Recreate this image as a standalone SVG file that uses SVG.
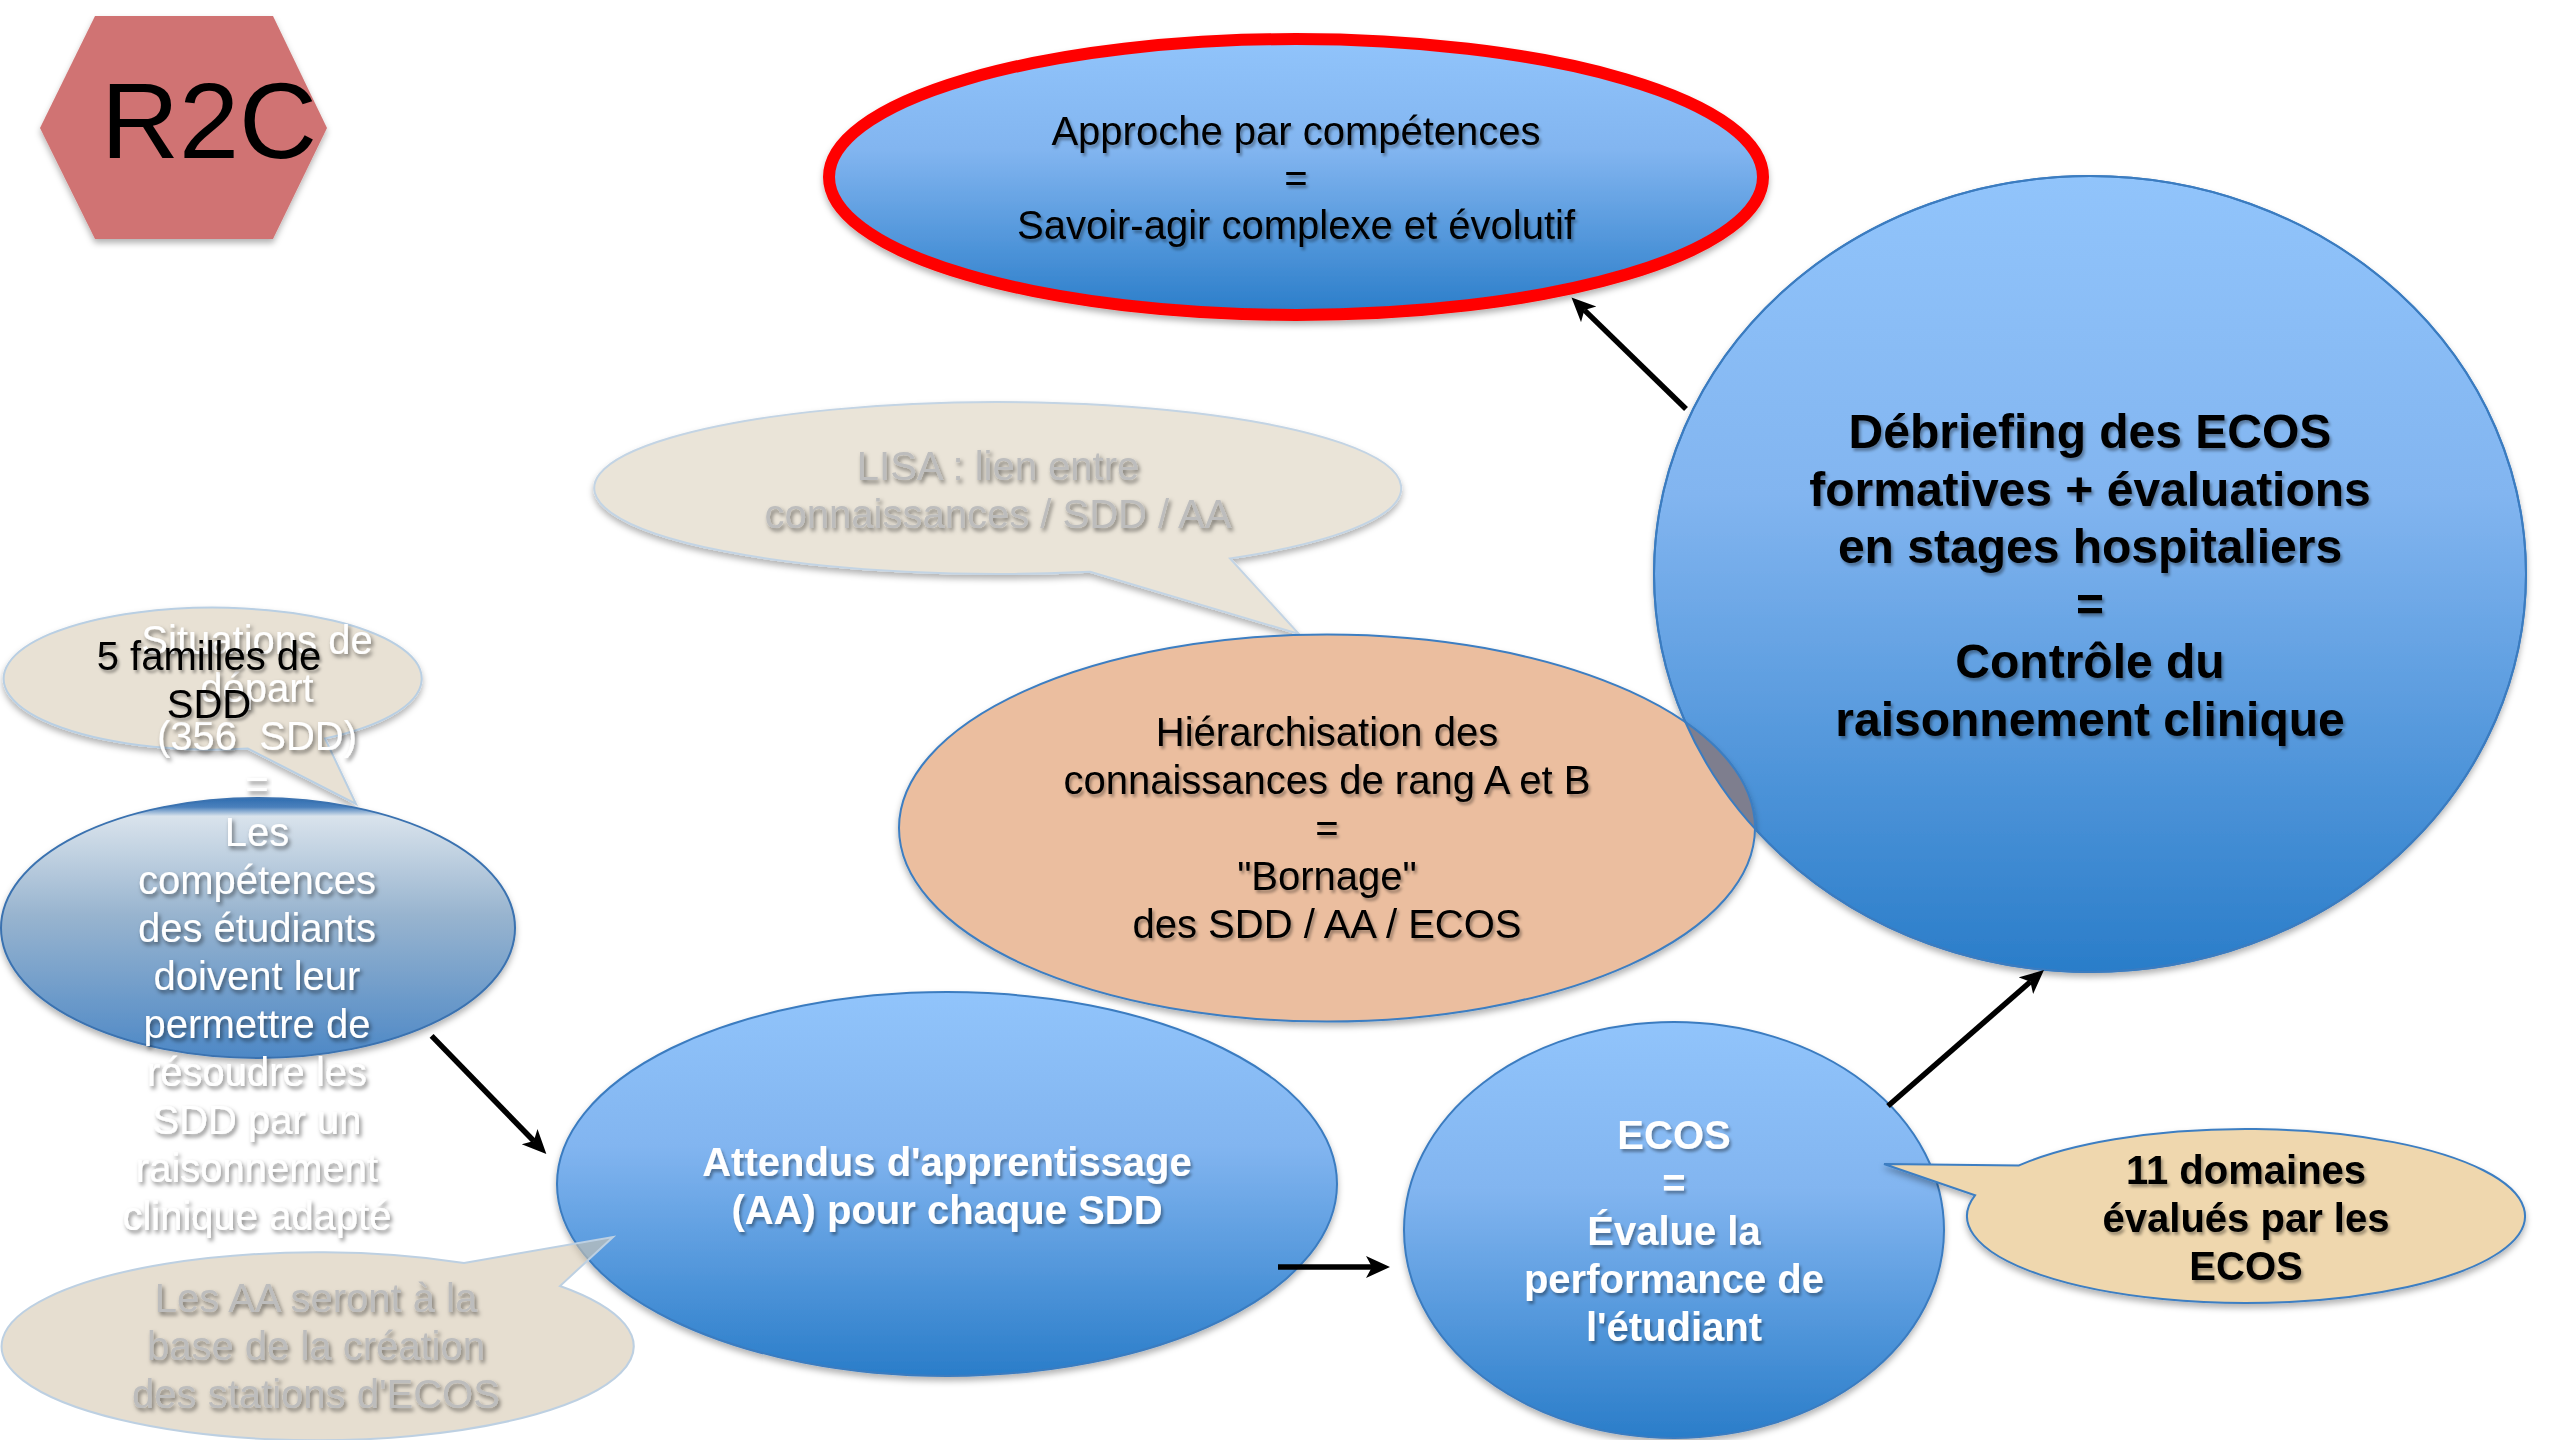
<svg xmlns="http://www.w3.org/2000/svg" width="2560" height="1440" viewBox="0 0 2560 1440">
<defs>
<linearGradient id="gBlue" x1="0" y1="0" x2="0" y2="1">
<stop offset="0" stop-color="#91C4FB"/>
<stop offset="0.4" stop-color="#82B5F0"/>
<stop offset="1" stop-color="#2A7DC9"/>
</linearGradient>
<linearGradient id="gSteel" x1="0" y1="0" x2="0" y2="1">
<stop offset="0" stop-color="#2F6DB0"/>
<stop offset="0.035" stop-color="#4A80BC"/>
<stop offset="0.07" stop-color="#D9E3EC"/>
<stop offset="0.45" stop-color="#98B4CF"/>
<stop offset="1" stop-color="#4D88C6"/>
</linearGradient>
<filter id="sh" x="-10%" y="-10%" width="120%" height="125%">
<feDropShadow dx="0" dy="4" stdDeviation="3" flood-color="#000" flood-opacity="0.3"/>
</filter>
<filter id="ts" x="-10%" y="-30%" width="120%" height="160%">
<feDropShadow dx="2" dy="3" stdDeviation="1.5" flood-color="#000" flood-opacity="0.35"/>
</filter>
<filter id="tg" x="-10%" y="-30%" width="120%" height="160%">
<feDropShadow dx="2" dy="3" stdDeviation="2" flood-color="#000" flood-opacity="0.5"/>
</filter>
<clipPath id="clipDeb"><ellipse cx="2090" cy="574" rx="436" ry="398"/></clipPath>
<marker id="arr" markerUnits="userSpaceOnUse" markerWidth="26" markerHeight="24" refX="6" refY="11" orient="auto" viewBox="0 0 26 24">
<path d="M0,0 L24,11 L0,22 L6,11 Z" fill="#000"/>
</marker>
<style>
text{font-family:"Liberation Sans",Arial,sans-serif;font-size:40px;text-anchor:middle}
.b{font-weight:bold}
.blk{fill:#000;filter:url(#ts)}
.wht{fill:#FFFFFF;filter:url(#ts)}
.ghost{fill:#FFFFFF;filter:url(#tg)}
.gry{fill:#BDBDBD;filter:url(#tg)}
.blue{fill:url(#gBlue);stroke:#3B7CC0;stroke-width:2}
.conn{stroke:#000;stroke-width:5.5;fill:none;marker-end:url(#arr)}
</style>
</defs>
<rect width="2560" height="1440" fill="#FFFFFF"/>

<g id="n-r2c">
<polygon points="95,16 273,16 327,128 273,239 95,239 40,128" fill="#D07373" filter="url(#sh)"/>
<text x="209" y="158" style="font-size:108px" fill="#000">R2C</text>
</g>

<g id="n-approche">
<ellipse cx="1296" cy="177" rx="467" ry="138" fill="url(#gBlue)" stroke="#FF0000" stroke-width="12" filter="url(#sh)"/>
<text class="blk" x="1296" y="145">Approche par compétences</text>
<text class="blk" x="1296" y="192">=</text>
<text class="blk" x="1296" y="239">Savoir-agir complexe et évolutif</text>
</g>

<g id="n-lisa">
<path d="M1090,571.8 L1299,634 L1230,558.4 A403.5 86 0 1 0 1090,571.8 Z" fill="#EAE4D8" stroke="#C3D4E4" stroke-width="2" filter="url(#sh)"/>
<text class="gry" x="998" y="480">LISA : lien entre</text>
<text class="gry" x="998" y="528">connaissances / SDD / AA</text>
</g>

<g id="n-debriefing">
<ellipse class="blue" cx="2090" cy="574" rx="436" ry="398" filter="url(#sh)"/>
<text class="blk b" x="2090" y="448" style="font-size:48px">Débriefing des ECOS</text>
<text class="blk b" x="2090" y="505.6" style="font-size:48px">formatives + évaluations</text>
<text class="blk b" x="2090" y="563.2" style="font-size:48px">en stages hospitaliers</text>
<text class="blk b" x="2090" y="620.8" style="font-size:48px">=</text>
<text class="blk b" x="2090" y="678.4" style="font-size:48px">Contrôle du</text>
<text class="blk b" x="2090" y="736" style="font-size:48px">raisonnement clinique</text>
</g>

<g id="n-hierarchisation">
<ellipse cx="1327" cy="828" rx="428" ry="193.5" fill="#EBBE9F" stroke="#3C7EC2" stroke-width="2" filter="url(#sh)"/>
<ellipse cx="1327" cy="828" rx="428" ry="193.5" fill="#7E7E8E" stroke="#3C7EC2" stroke-width="2" clip-path="url(#clipDeb)"/>
<ellipse cx="2090" cy="574" rx="436" ry="398" fill="none" stroke="#3B7CC0" stroke-width="2"/>
<text class="blk" x="1327" y="745.5">Hiérarchisation des</text>
<text class="blk" x="1327" y="793.5">connaissances de rang A et B</text>
<text class="blk" x="1327" y="841.5">=</text>
<text class="blk" x="1327" y="889.5">"Bornage"</text>
<text class="blk" x="1327" y="937.5">des SDD / AA / ECOS</text>
</g>

<g id="n-familles">
<path d="M248,748.6 L356,804 L325,738.5 A209 71 0 1 0 248,748.6 Z" fill="#E8E1D4" stroke="#B9CFE3" stroke-width="2" filter="url(#sh)"/>
</g>

<g id="n-competences">
<ellipse cx="258" cy="928" rx="257" ry="130" fill="url(#gSteel)" stroke="#3A72B0" stroke-width="2" filter="url(#sh)"/>
<text class="ghost" x="257" y="654">Situations de</text>
<text class="ghost" x="257" y="702">départ</text>
<text class="ghost" x="257" y="750" xml:space="preserve">(356  SDD)</text>
<text class="ghost" x="257" y="798">=</text>
<text class="ghost" x="257" y="846">Les</text>
<text class="ghost" x="257" y="894">compétences</text>
<text class="ghost" x="257" y="942">des étudiants</text>
<text class="ghost" x="257" y="990">doivent leur</text>
<text class="ghost" x="257" y="1038">permettre de</text>
<text class="ghost" x="257" y="1086">résoudre les</text>
<text class="ghost" x="257" y="1134">SDD par un</text>
<text class="ghost" x="257" y="1182">raisonnement</text>
<text class="ghost" x="257" y="1230">clinique adapté</text>
</g>

<g id="n-familles-label">
<text class="blk" x="209" y="670">5 familles de</text>
<text class="blk" x="209" y="718">SDD</text>
</g>

<g id="n-attendus">
<ellipse class="blue" cx="947" cy="1184" rx="390" ry="192" filter="url(#sh)"/>
<text class="wht b" x="947" y="1176">Attendus d'apprentissage</text>
<text class="wht b" x="947" y="1224">(AA) pour chaque SDD</text>
</g>

<g id="n-les-aa">
<path d="M464,1263 L613,1237 L560,1286 A316 94 0 1 1 464,1263 Z" fill="#D5C8B1" fill-opacity="0.6" stroke="#BDD0E2" stroke-width="2"/>
<text class="gry" x="316" y="1312">Les AA seront à la</text>
<text class="gry" x="316" y="1360">base de la création</text>
<text class="gry" x="316" y="1408">des stations d'ECOS</text>
</g>

<g id="n-ecos">
<ellipse class="blue" cx="1674" cy="1230" rx="270" ry="208" filter="url(#sh)"/>
<text class="wht b" x="1674" y="1149">ECOS</text>
<text class="wht b" x="1674" y="1197">=</text>
<text class="wht b" x="1674" y="1245">Évalue la</text>
<text class="wht b" x="1674" y="1293">performance de</text>
<text class="wht b" x="1674" y="1341">l'étudiant</text>
</g>

<g id="n-domaines">
<path d="M2019,1165.4 L1884,1164 L1975,1195.3 A279 87 0 1 0 2019,1165.4 Z" fill="#EFD7AE" stroke="#3C7EC2" stroke-width="2" filter="url(#sh)"/>
<text class="blk b" x="2246" y="1184">11 domaines</text>
<text class="blk b" x="2246" y="1232">évalués par les</text>
<text class="blk b" x="2246" y="1280">ECOS</text>
</g>

<g id="connectors">
<line class="conn" x1="1686" y1="409" x2="1584.4" y2="310.1"/>
<line class="conn" x1="431.6" y1="1035.9" x2="533.8" y2="1141"/>
<line class="conn" x1="1278" y1="1267" x2="1372" y2="1267"/>
<line class="conn" x1="1888" y1="1106" x2="2030.4" y2="981.8"/>
</g>
</svg>
